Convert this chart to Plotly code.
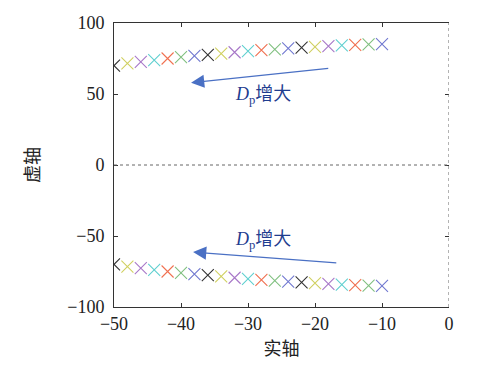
import plotly.graph_objects as go

real_part = [-50, -48, -46, -44, -42, -40, -38, -36, -34, -32, -30,
             -28, -26, -24, -22, -20, -18, -16, -14, -12, -10]
imag_upper = [70.0, 71.5, 72.6, 73.8, 75.0, 76.0, 76.8, 77.6, 78.5, 79.4, 80.2,
              80.9, 81.5, 82.1, 82.6, 83.2, 83.7, 84.2, 84.6, 84.9, 85.2]
imag_lower = [-70.0, -71.5, -72.6, -73.8, -75.0, -76.0, -76.8, -77.6, -78.5, -79.4, -80.2,
              -80.9, -81.5, -82.1, -82.6, -83.2, -83.7, -84.2, -84.6, -84.9, -85.2]
palette = ["#333333", "#d0d060", "#a878c8", "#60d0d0", "#f07050", "#80c080", "#7078d0"]
x_ticks = [-50, -40, -30, -20, -10, 0]
y_ticks = [-100, -50, 0, 50, 100]

colors = [palette[i % len(palette)] for i in range(len(real_part))]

fig = go.Figure()
for ys in (imag_upper, imag_lower):
    fig.add_trace(go.Scatter(
        x=real_part, y=ys, mode="markers",
        marker=dict(symbol="x-thin", size=12, line=dict(width=1.1, color=colors)),
        showlegend=False, hoverinfo="skip"))

# invisible trace on right axis for mirrored right ticks
fig.add_trace(go.Scatter(x=[None], y=[None], yaxis="y2", showlegend=False))

serif = "Liberation Serif"
cjk = "Liberation Serif, Noto Sans CJK SC"

fig.update_layout(
    width=483, height=368,
    margin=dict(l=106, r=42, t=15, b=69, autoexpand=False),
    paper_bgcolor="white", plot_bgcolor="white",
    xaxis=dict(range=[-50, 0], tickvals=x_ticks, ticks="inside", ticklen=4,
               tickcolor="#333", showline=True, linecolor="#333", linewidth=1,
               mirror="ticks", showgrid=False, zeroline=False, automargin=False,
               tickfont=dict(family=serif, size=18, color="#222"),
               title=dict(text="实轴", font=dict(family=cjk, size=18, color="#222"),
                          standoff=9)),
    yaxis=dict(range=[-100, 100], tickvals=y_ticks, ticks="inside", ticklen=4,
               tickcolor="#333", showline=True, linecolor="#333", linewidth=1,
               showgrid=False, zeroline=False, automargin=False,
               ticklabelstandoff=5,
               tickfont=dict(family=serif, size=18, color="#222"),
               title=dict(text="虚轴", font=dict(family=cjk, size=18, color="#222"),
                          standoff=22)),
    yaxis2=dict(range=[-100, 100], tickvals=y_ticks, ticks="inside", ticklen=4,
                tickcolor="#333", overlaying="y", side="right", showline=False,
                showticklabels=False, showgrid=False, zeroline=False, automargin=False),
    shapes=[
        dict(type="line", xref="x", yref="y", x0=-50, x1=0, y0=0, y1=0,
             line=dict(color="#666", width=1, dash="dot")),
        dict(type="line", xref="x", yref="y", x0=0, x1=0, y0=-100, y1=100,
             line=dict(color="#666", width=1, dash="dot")),
    ],
)

arrow_color = "#4a70c4"
text_color = "#1f3d8f"
label = "<i>D</i><sub>p</sub>增大"
for (tx, ty, hx, hy, lx, ly) in [(-17.8, 68.1, -38.5, 58.0, -27.8, 49.0),
                                 (-16.6, -69.0, -38.2, -61.3, -27.8, -53.5)]:
    fig.add_annotation(x=hx, y=hy, ax=tx, ay=ty, xref="x", yref="y",
                       axref="x", ayref="y", text="", showarrow=True,
                       arrowhead=2, arrowsize=2.2, arrowwidth=1.2,
                       arrowcolor=arrow_color)
    fig.add_annotation(x=lx, y=ly, xref="x", yref="y", text=label,
                       showarrow=False,
                       font=dict(family=cjk, size=18, color=text_color))

fig.write_html("out.html")
